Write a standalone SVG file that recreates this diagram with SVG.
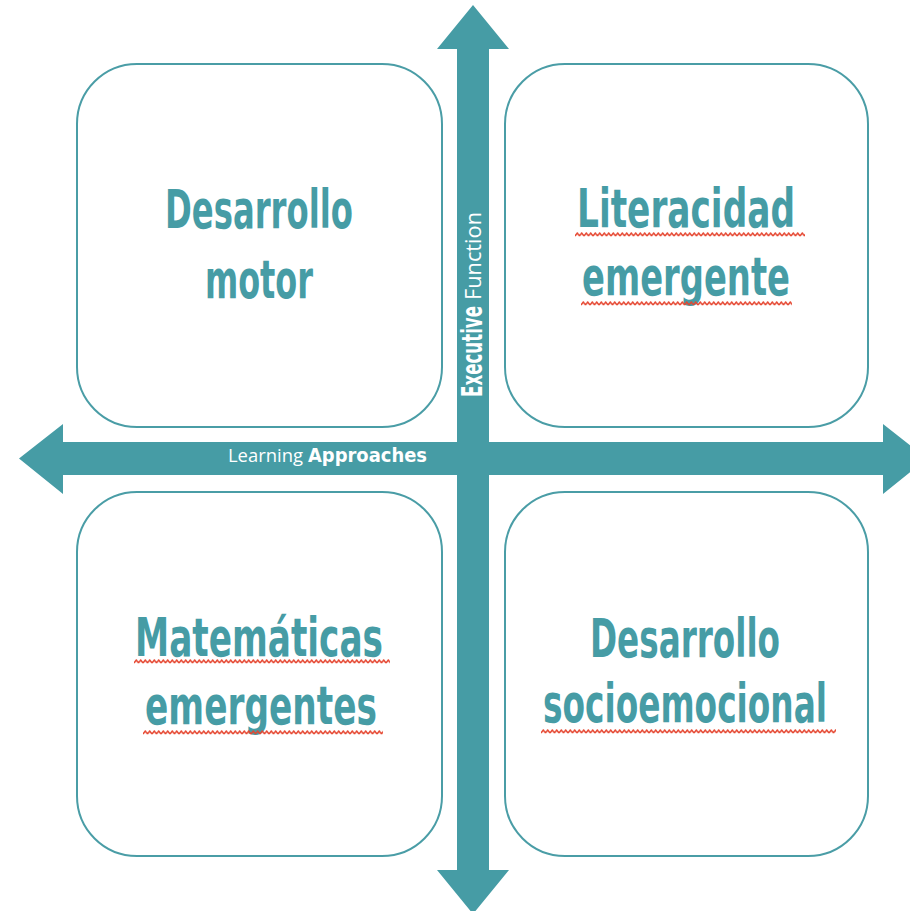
<svg xmlns="http://www.w3.org/2000/svg" width="910" height="911" viewBox="0 0 910 911">
  <style>
    .box { fill: #ffffff; stroke: #4a9da6; stroke-width: 2; }
    .lbl { font-family: "DejaVu Sans Condensed", "DejaVu Sans", sans-serif; font-stretch: condensed; font-weight: bold; font-size: 54px; fill: #469ca5; }
    .axb { font-family: "DejaVu Sans Condensed", "DejaVu Sans", sans-serif; font-stretch: condensed; font-weight: bold; fill: #ffffff; }
    .axr { font-family: "Open Sans", "Liberation Sans", sans-serif; fill: #ffffff; }
    .arrow { fill: #469ca5; }
  </style>
  <defs>
    <pattern id="sq" width="4.5" height="5" patternUnits="userSpaceOnUse">
      <polyline points="0,4 2.25,1 4.5,4" fill="none" stroke="#e5452f" stroke-width="1.4"/>
    </pattern>
  </defs>

  <g id="connectors">
    <polygon class="arrow" points="473,5 509,49 489,49 489,870 509,870 473,914 437,870 457,870 457,49 437,49"/>
    <polygon class="arrow" points="19,458.5 63,424 63,442 883,442 883,424 927,458.5 883,494 883,475 63,475 63,494"/>
    <text class="axr" x="228" y="461.5" font-size="18" textLength="75" lengthAdjust="spacingAndGlyphs">Learning</text>
    <text class="axb" x="308" y="461.5" font-size="20" textLength="119" lengthAdjust="spacingAndGlyphs">Approaches</text>
    <text class="axb" transform="translate(482,397) rotate(-90)" x="0" y="0" font-size="28" textLength="91" lengthAdjust="spacingAndGlyphs">Executive</text>
    <text class="axr" transform="translate(481,300) rotate(-90)" x="0" y="0" font-size="22" textLength="88" lengthAdjust="spacingAndGlyphs">Function</text>
  </g>

  <g id="motor">
    <rect class="box" x="77" y="64" width="365" height="363" rx="60" ry="60"/>
    <text class="lbl" x="165" y="228" textLength="188" lengthAdjust="spacingAndGlyphs">Desarrollo</text>
    <text class="lbl" x="205" y="298" textLength="108" lengthAdjust="spacingAndGlyphs">motor</text>
  </g>

  <g id="literacidad">
    <rect class="box" x="505" y="64" width="363" height="363" rx="60" ry="60"/>
    <text class="lbl" x="577" y="227" textLength="218" lengthAdjust="spacingAndGlyphs">Literacidad</text>
    <text class="lbl" x="582" y="295" textLength="208" lengthAdjust="spacingAndGlyphs">emergente</text>
    <rect x="0" y="0" width="230" height="5" transform="translate(575,232)" fill="url(#sq)"/>
    <rect x="0" y="0" width="211" height="5" transform="translate(581,301)" fill="url(#sq)"/>
  </g>

  <g id="matematicas">
    <rect class="box" x="77" y="492" width="365" height="364" rx="60" ry="60"/>
    <text class="lbl" x="135" y="656" textLength="248" lengthAdjust="spacingAndGlyphs">Matemáticas</text>
    <text class="lbl" x="145" y="724" textLength="232" lengthAdjust="spacingAndGlyphs">emergentes</text>
    <rect x="0" y="0" width="256" height="5" transform="translate(134,659)" fill="url(#sq)"/>
    <rect x="0" y="0" width="240" height="5" transform="translate(143,730)" fill="url(#sq)"/>
  </g>

  <g id="socioemocional">
    <rect class="box" x="505" y="492" width="363" height="364" rx="60" ry="60"/>
    <text class="lbl" x="590" y="657" textLength="190" lengthAdjust="spacingAndGlyphs">Desarrollo</text>
    <text class="lbl" x="543" y="722" textLength="284" lengthAdjust="spacingAndGlyphs">socioemocional</text>
    <rect x="0" y="0" width="295" height="5" transform="translate(541,729)" fill="url(#sq)"/>
  </g>
</svg>
